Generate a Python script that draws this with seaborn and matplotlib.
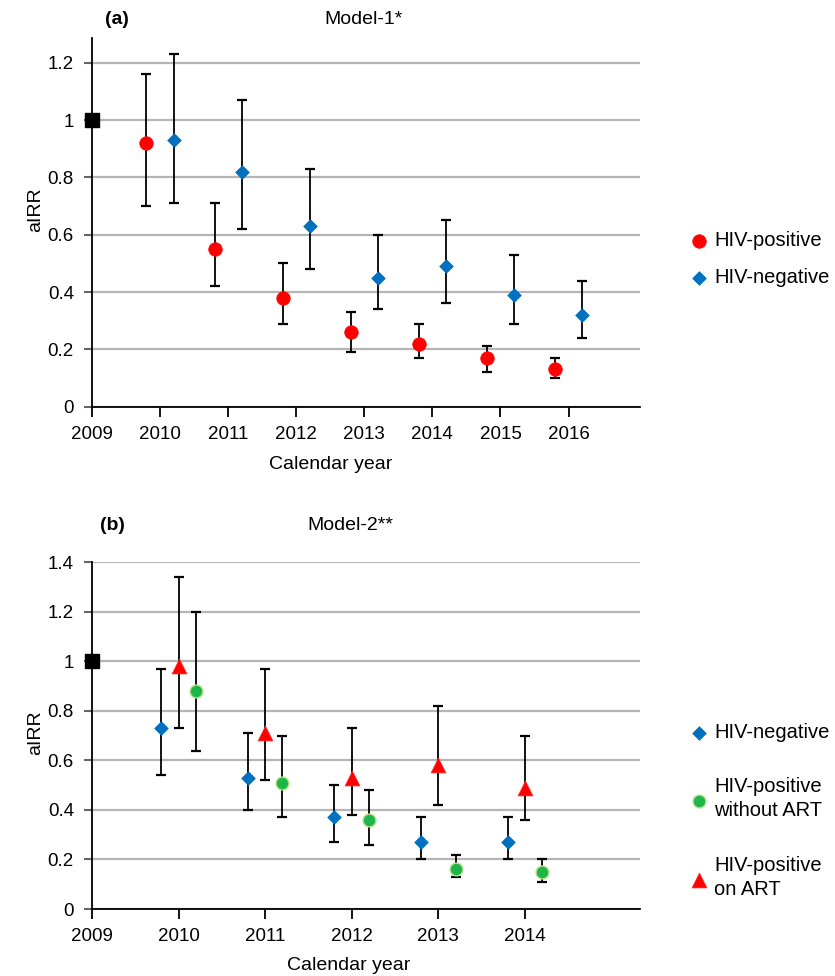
import numpy as np
import pandas as pd
import matplotlib
matplotlib.use("Agg")
import matplotlib.pyplot as plt
import seaborn as sns
from matplotlib.ticker import FuncFormatter

# ---- data ----
ref_year = 2009
ref_value = 1.0

# panel (a) Model-1
years_a = [2010, 2011, 2012, 2013, 2014, 2015, 2016]
pos_a = [0.92, 0.55, 0.38, 0.26, 0.22, 0.17, 0.13]
pos_a_lo = [0.70, 0.42, 0.29, 0.19, 0.17, 0.12, 0.10]
pos_a_hi = [1.16, 0.71, 0.50, 0.33, 0.29, 0.21, 0.17]
neg_a = [0.93, 0.82, 0.63, 0.45, 0.49, 0.39, 0.32]
neg_a_lo = [0.71, 0.62, 0.48, 0.34, 0.36, 0.29, 0.24]
neg_a_hi = [1.23, 1.07, 0.83, 0.60, 0.65, 0.53, 0.44]

# panel (b) Model-2
years_b = [2010, 2011, 2012, 2013, 2014]
neg_b = [0.73, 0.53, 0.37, 0.27, 0.27]
neg_b_lo = [0.54, 0.40, 0.27, 0.20, 0.20]
neg_b_hi = [0.97, 0.71, 0.50, 0.37, 0.37]
noart_b = [0.88, 0.51, 0.36, 0.16, 0.15]
noart_b_lo = [0.64, 0.37, 0.26, 0.13, 0.11]
noart_b_hi = [1.20, 0.70, 0.48, 0.22, 0.20]
art_b = [0.98, 0.71, 0.53, 0.58, 0.49]
art_b_lo = [0.73, 0.52, 0.38, 0.42, 0.36]
art_b_hi = [1.34, 0.97, 0.73, 0.82, 0.70]


def make_df(years, vals, lo, hi, group, offset):
    return pd.DataFrame({"x": np.array(years) + offset, "y": vals, "lo": lo, "hi": hi, "group": group})


df_a = pd.concat([
    make_df(years_a, pos_a, pos_a_lo, pos_a_hi, "HIV-positive", -0.2),
    make_df(years_a, neg_a, neg_a_lo, neg_a_hi, "HIV-negative", 0.2),
])
df_b = pd.concat([
    make_df(years_b, neg_b, neg_b_lo, neg_b_hi, "HIV-negative", -0.2),
    make_df(years_b, noart_b, noart_b_lo, noart_b_hi, "HIV-positive\nwithout ART", 0.2),
    make_df(years_b, art_b, art_b_lo, art_b_hi, "HIV-positive\non ART", 0.0),
])

styles = {
    "HIV-positive": dict(color="#ff0000", marker="o", s=95, edgecolor="#ff0000", linewidth=0.5),
    "HIV-negative": dict(color="#0070c0", marker="D", s=48, edgecolor="#0070c0", linewidth=0.5),
    "HIV-positive\nwithout ART": dict(color="#1db64a", marker="o", s=85, edgecolor="#b9e08a", linewidth=1.0),
    "HIV-positive\non ART": dict(color="#ff0000", marker="^", s=115, edgecolor="#ff3030", linewidth=0.5),
}

sns.set_theme(style="ticks")
plt.rcParams["font.family"] = ["Liberation Sans", "DejaVu Sans"]
plt.rcParams["text.color"] = "black"

W, H = 835, 976
fig = plt.figure(figsize=(W / 100, H / 100), dpi=100)
ax_a = fig.add_axes([92 / W, 1 - 406.7 / H, 548 / W, 368.4 / H])
ax_b = fig.add_axes([92 / W, 1 - 909 / H, 548 / W, 346.7 / H])


def draw_panel(ax, df, order, xticks, xmax, ymax, yticks):
    for g in order:
        sub = df[df["group"] == g]
        ax.errorbar(sub["x"], sub["y"], yerr=[sub["y"] - sub["lo"], sub["hi"] - sub["y"]],
                    fmt="none", ecolor="black", elinewidth=1.3, capsize=3.4, capthick=1.6, zorder=3)
        sns.scatterplot(data=sub, x="x", y="y", ax=ax, label=g, legend=False, zorder=4, **styles[g])
    ax.scatter([ref_year], [ref_value], marker="s", s=110, color="black", zorder=5, clip_on=False)
    ax.set_xlim(2009, xmax)
    ax.set_ylim(0, ymax)
    ax.set_xticks(xticks)
    ax.set_yticks(yticks)
    ax.yaxis.set_major_formatter(FuncFormatter(lambda v, p: f"{v:g}"))
    ax.yaxis.grid(True, color="#b5b5b5", lw=1.6)
    ax.xaxis.grid(False)
    ax.set_axisbelow(True)
    ax.set_xlabel("")
    ax.set_ylabel("")
    sns.despine(ax=ax)
    for sp in ["left", "bottom"]:
        ax.spines[sp].set_color("black")
        ax.spines[sp].set_linewidth(1.3)
    ax.tick_params(axis="x", direction="out", length=7, width=1.3, color="black", pad=7,
                   labelsize=13.5, labelcolor="black")
    ax.tick_params(axis="y", direction="out", length=6, width=1.5, color="#666666", pad=7,
                   labelsize=13.5, labelcolor="black")


draw_panel(ax_a, df_a, ["HIV-positive", "HIV-negative"], range(2009, 2017), 2017.05, 1.285,
           np.arange(0, 1.21, 0.2))
draw_panel(ax_b, df_b, ["HIV-negative", "HIV-positive\nwithout ART", "HIV-positive\non ART"],
           range(2009, 2015), 2015.33, 1.4, np.arange(0, 1.41, 0.2))

# legends to the right
h, l = ax_a.get_legend_handles_labels()
ax_a.legend(h, l, loc="center left", bbox_to_anchor=(689 / W, 1 - 259 / H), bbox_transform=fig.transFigure,
            frameon=False, fontsize=14.5, handlelength=1.0, handletextpad=0.25, labelspacing=0.9,
            borderpad=0, borderaxespad=0)
h, l = ax_b.get_legend_handles_labels()
leg_b = ax_b.legend(h, l, loc="center left", bbox_to_anchor=(689 / W, 1 - 811 / H),
                    bbox_transform=fig.transFigure, frameon=False, fontsize=14.5, handlelength=1.0,
                    handletextpad=0.25, labelspacing=1.75, borderpad=0, borderaxespad=0)
for t in leg_b.get_texts():
    t.set_linespacing(1.35)

# titles and axis labels
fig.text(117 / W, 1 - 20 / H, "(a)", fontsize=14, weight="bold", ha="center", va="center")
fig.text(364 / W, 1 - 20 / H, "Model-1*", fontsize=14, ha="center", va="center")
fig.text(112 / W, 1 - 525 / H, "(b)", fontsize=14, weight="bold", ha="center", va="center")
fig.text(350 / W, 1 - 525 / H, "Model-2**", fontsize=14, ha="center", va="center")
fig.text(331 / W, 1 - 465 / H, "Calendar year", fontsize=14, ha="center", va="center")
fig.text(349 / W, 1 - 966 / H, "Calendar year", fontsize=14, ha="center", va="center")
fig.text(36 / W, 1 - 210 / H, "aIRR", fontsize=14, rotation=90, ha="center", va="center")
fig.text(36 / W, 1 - 733 / H, "aIRR", fontsize=14, rotation=90, ha="center", va="center")

fig.savefig("out.png", dpi=100)
